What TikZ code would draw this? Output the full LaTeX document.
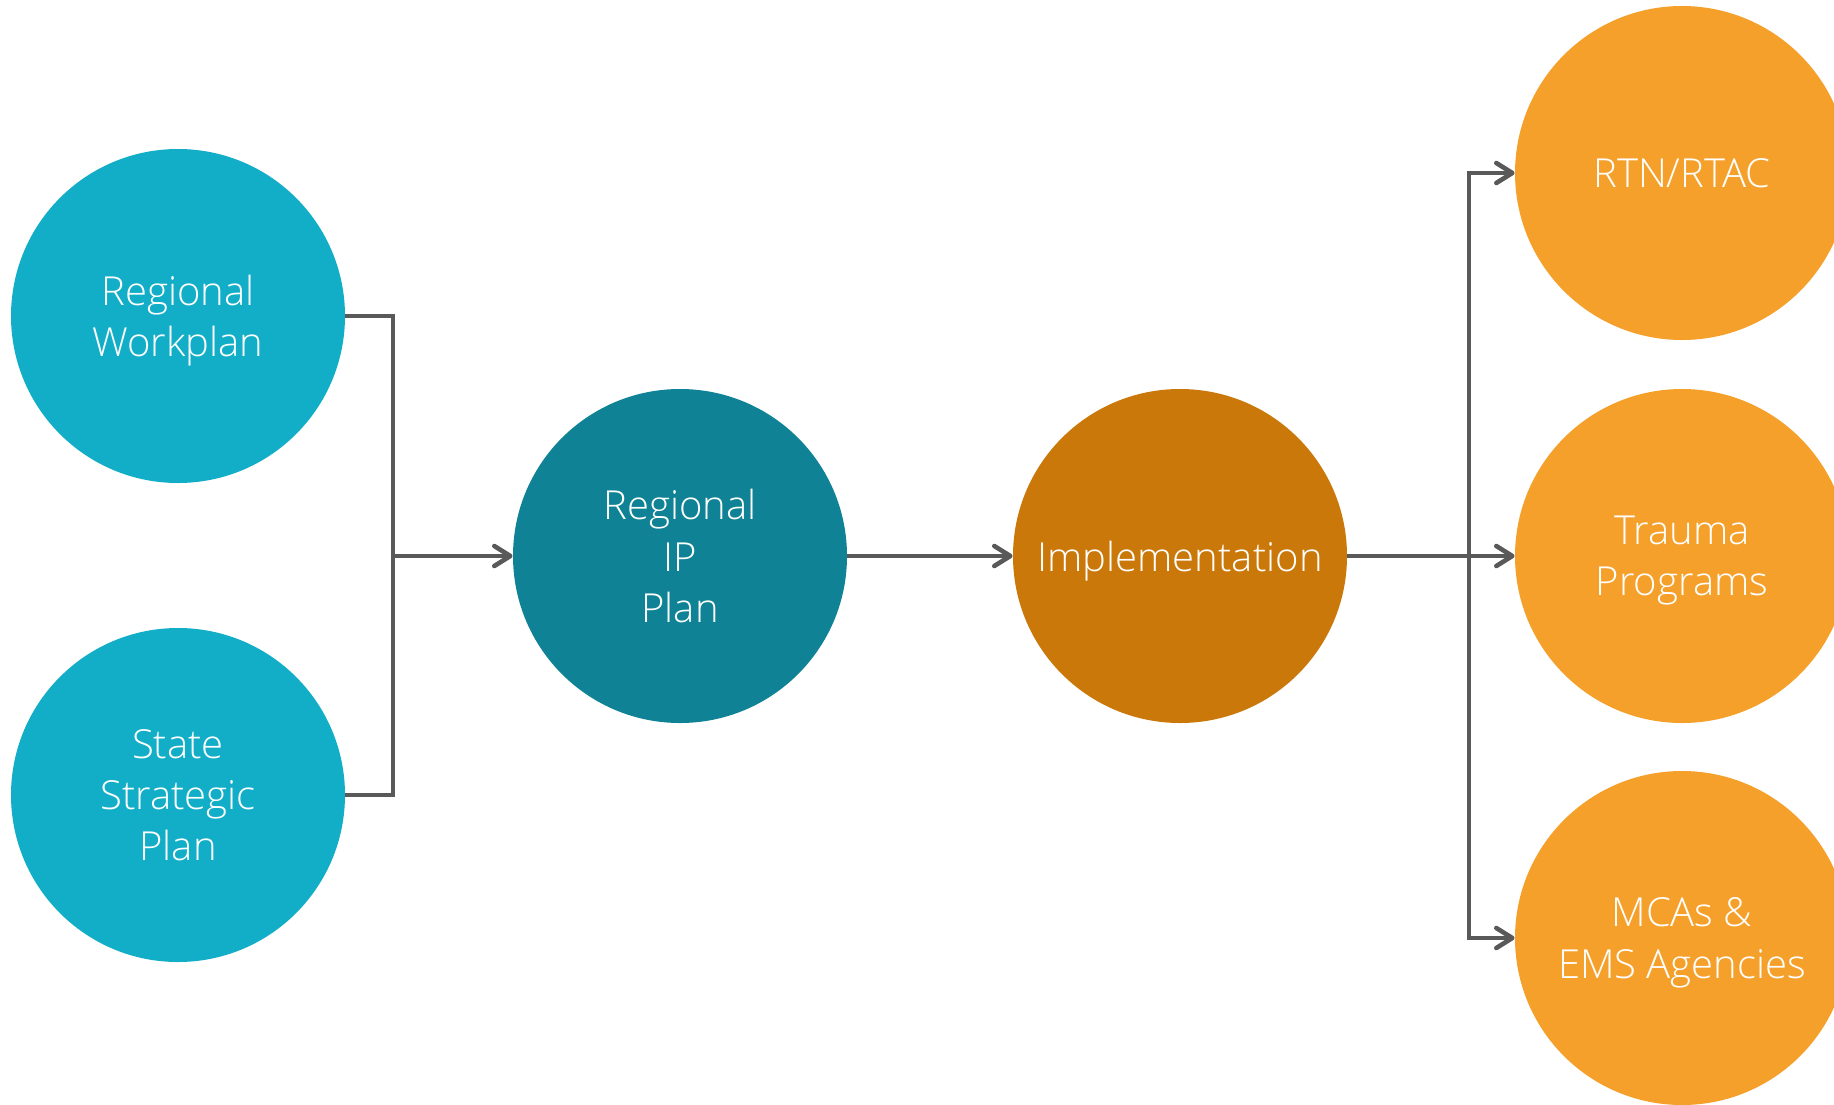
\documentclass[tikz,border=0pt]{standalone}
\usepackage{fontspec}
\setmainfont{Open Sans}[UprightFont=* Light]
\usepackage{tikz}
\usetikzlibrary{arrows.meta}

\definecolor{skyTeal}{HTML}{12AEC8}
\definecolor{deepTeal}{HTML}{0F8395}
\definecolor{burntOrange}{HTML}{C97809}
\definecolor{warmOrange}{HTML}{F5A02A}
\definecolor{lineGray}{HTML}{595959}

\tikzset{
    blob/.style={circle, minimum size=167pt, inner sep=0pt, text=white, align=center,
        text depth=0pt, font=\fontsize{20}{25.7}\selectfont},
    link/.style={draw=lineGray, line width=2.3pt},
    arr/.style={link, -{Straight Barb[length=8pt,width=10pt,round]}}
}

\begin{document}
\begin{tikzpicture}[x=0.5pt, y=-0.5pt]
        \useasboundingbox (0,0) rectangle (1834,1104);
        \node[blob, fill=skyTeal] (workplan) at (178,316) {Regional\\Workplan};
        \node[blob, fill=skyTeal] (strategic) at (178,795) {State\\Strategic\\Plan};
        \node[blob, fill=deepTeal] (ipplan) at (680,556) {Regional\\IP\\Plan};
        \node[blob, fill=burntOrange] (impl) at (1180,556) {Implementation};
        \node[blob, fill=warmOrange] (rtn) at (1682,173) {RTN/RTAC};
        \node[blob, fill=warmOrange] (trauma) at (1682,556) {Trauma\\Programs};
        \node[blob, fill=warmOrange] (mcas) at (1682,938) {MCAs \&\\EMS Agencies};
        \coordinate (join) at (393,556);
        \coordinate (fork) at (1469,556);
        \draw[link] (workplan.east) -| (join) |- (strategic.east);
        \draw[arr] (join) -- (ipplan.west);
        \draw[arr] (ipplan.east) -- (impl.west);
        \draw[link] (impl.east) -- (fork);
        \draw[arr] (fork) |- (rtn.west);
        \draw[arr] (fork) -- (trauma.west);
        \draw[arr] (fork) |- (mcas.west);
    \end{tikzpicture}
\end{document}
